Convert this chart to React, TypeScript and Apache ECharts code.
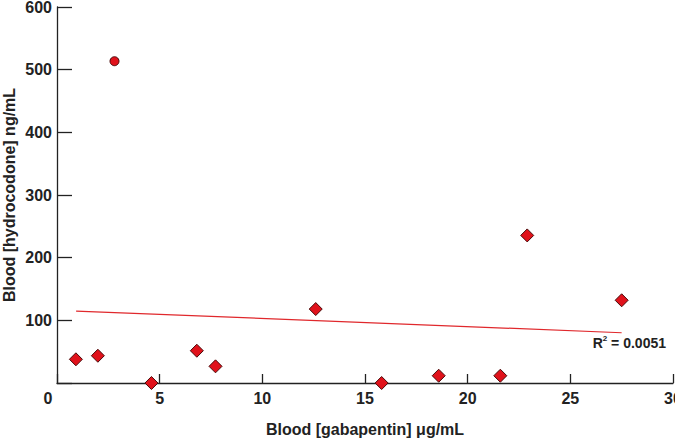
import React, { useEffect, useRef } from "react";
import * as echarts from "echarts";

const gabapentin = [0.92, 1.99, 4.6, 6.81, 7.72, 12.6, 15.81, 18.59, 21.59, 22.9, 27.5];
const hydrocodone = [37.8, 43.5, 0, 51.5, 26.6, 118, 0, 11.6, 11.6, 235.5, 132];
const outlierX = [2.8];
const outlierY = [513.5];
const trendX = [0.93, 27.5];
const trendY = [114.8, 80.2];
const r2Text = "0.0051";
const xTitle = "Blood [gabapentin] μg/mL";
const yTitle = "Blood [hydrocodone] ng/mL";

const FONT = "'Liberation Sans', Arial, sans-serif";

export default function App() {
  const ref = useRef<HTMLDivElement>(null);
  useEffect(() => {
    if (!ref.current) return;
    const chart = echarts.init(ref.current, null, { renderer: "svg" });
    const axisCol = "#222";
    chart.setOption({
      animation: false,
      backgroundColor: "#fff",
      grid: { left: 57, right: 2, top: 7, bottom: 56, containLabel: false, outerBoundsMode: "none" },
      xAxis: {
        type: "value",
        min: 0,
        max: 30,
        interval: 5,
        name: xTitle,
        nameLocation: "middle",
        nameGap: 38,
        nameTextStyle: { fontFamily: FONT, fontSize: 16, color: axisCol, fontWeight: "bold" },
        axisLine: { show: true, lineStyle: { color: axisCol, width: 1.3 } },
        axisTick: { show: true, inside: true, length: 9, lineStyle: { color: axisCol, width: 1.3 } },
        splitLine: { show: false },
        axisLabel: {
          margin: 7,
          fontFamily: FONT,
          fontSize: 16,
          fontWeight: "bold",
          color: axisCol,
          formatter: (v: number) => (v === 0 ? "{z|0}" : String(v)),
          rich: { z: { fontFamily: FONT, fontSize: 16, fontWeight: "bold", color: axisCol, padding: [0, 18, 0, 0] } },
        },
      },
      yAxis: {
        type: "value",
        min: 0,
        max: 600,
        interval: 100,
        name: yTitle,
        nameLocation: "middle",
        nameGap: 40,
        nameMoveOverlap: false,
        nameTextStyle: { fontFamily: FONT, fontSize: 16, color: axisCol, fontWeight: "bold" },
        axisLine: { show: true, lineStyle: { color: axisCol, width: 1.3 } },
        axisTick: { show: true, inside: true, length: 15, lineStyle: { color: axisCol, width: 1.3 } },
        splitLine: { show: false },
        axisLabel: {
          margin: 5,
          fontFamily: FONT,
          fontSize: 16,
          fontWeight: "bold",
          color: axisCol,
          formatter: (v: number) => (v === 0 ? "" : String(v)),
        },
      },
      series: [
        {
          type: "line",
          data: trendX.map((x, i) => [x, trendY[i]]),
          symbol: "none",
          lineStyle: { color: "#e0282c", width: 1.2 },
          z: 2,
          endLabel: {
            show: true,
            formatter: () => "{a|R}{s|2}{a| = " + r2Text + "}",
            offset: [-37, 10],
            rich: {
              a: { fontFamily: FONT, fontSize: 14, fontWeight: "bold", color: "#222" },
              s: { fontFamily: FONT, fontSize: 8, fontWeight: "bold", color: "#222", verticalAlign: "top", padding: [0, 0, 8, 0] },
            },
          },
        },
        {
          type: "scatter",
          data: gabapentin.map((x, i) => [x, hydrocodone[i]]),
          symbol: "diamond",
          symbolSize: [13, 13],
          clip: false,
          itemStyle: { color: "#e0121b", borderColor: "#4a0a0a", borderWidth: 1, opacity: 1 },
          z: 3,
        },
        {
          type: "scatter",
          data: outlierX.map((x, i) => [x, outlierY[i]]),
          symbol: "circle",
          symbolSize: 9,
          clip: false,
          itemStyle: { color: "#e0121b", borderColor: "#4a0a0a", borderWidth: 1, opacity: 1 },
          z: 3,
        },
      ],
    });
    return () => chart.dispose();
  }, []);
  return <div ref={ref} style={{ width: 675, height: 439, position: "absolute", left: 0, top: 0 }} />;
}
